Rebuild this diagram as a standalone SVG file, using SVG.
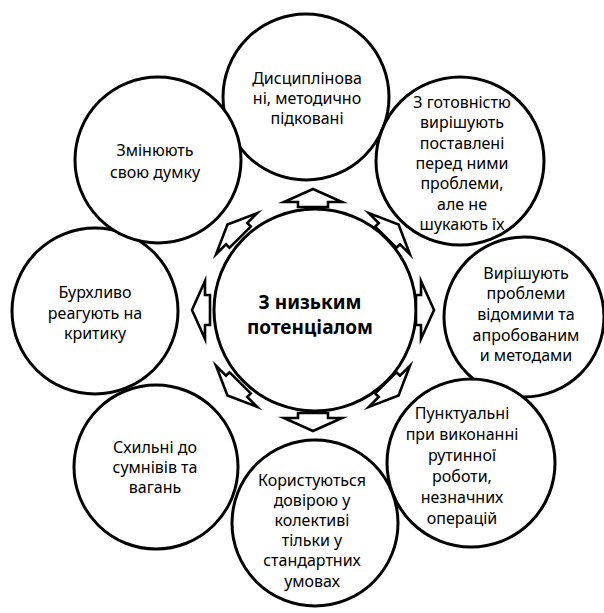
<svg xmlns="http://www.w3.org/2000/svg" width="604" height="613" viewBox="0 0 604 613">
<defs>
<style>
.c{fill:#fff;stroke:#000;stroke-width:3}
.a{fill:#fff;stroke:#000;stroke-width:2.6;stroke-linejoin:miter;stroke-miterlimit:10}
.t{font-family:"Noto Sans","Open Sans",sans-serif;font-size:16px;fill:#000;text-anchor:middle}
.m{font-family:"Noto Sans","Open Sans",sans-serif;font-size:19px;font-weight:bold;fill:#000;text-anchor:middle}
</style>
<path id="arr" d="M -15,-103 L -15,-108 L -29,-108 L 0,-121 L 29,-108 L 15,-108 L 15,-103 Z"/>
</defs>
<rect width="604" height="613" fill="#fff"/>
<g id="n-top"><circle class="c" cx="306" cy="97" r="83"/>
<text class="t"><tspan x="307" y="84">Дисциплінова</tspan><tspan x="307" y="104">ні, методично</tspan><tspan x="307" y="124">підковані</tspan></text></g>
<g id="n-ur"><circle class="c" cx="460" cy="161" r="84"/>
<text class="t"><tspan x="462" y="108">З готовністю</tspan><tspan x="462" y="128">вирішують</tspan><tspan x="462" y="149">поставлені</tspan><tspan x="462" y="169">перед ними</tspan><tspan x="462" y="189">проблеми,</tspan><tspan x="462" y="210">але не</tspan><tspan x="462" y="230">шукають їх</tspan></text></g>
<g id="n-r"><circle class="c" cx="524" cy="317" r="80"/>
<text class="t"><tspan x="526" y="279">Вирішують</tspan><tspan x="526" y="299">проблеми</tspan><tspan x="526" y="320">відомими та</tspan><tspan x="526" y="341">апробованим</tspan><tspan x="526" y="361">и методами</tspan></text></g>
<g id="n-lr"><circle class="c" cx="471" cy="463" r="84"/>
<text class="t"><tspan x="462" y="419">Пунктуальні</tspan><tspan x="462" y="440">при виконанні</tspan><tspan x="462" y="461">рутинної</tspan><tspan x="462" y="482">роботи,</tspan><tspan x="462" y="503">незначних</tspan><tspan x="462" y="524">операцій</tspan></text></g>
<g id="n-b"><circle class="c" cx="315" cy="523" r="83"/>
<text class="t"><tspan x="312" y="486">Користуються</tspan><tspan x="312" y="506">довірою у</tspan><tspan x="312" y="526">колективі</tspan><tspan x="312" y="546">тільки у</tspan><tspan x="312" y="566">стандартних</tspan><tspan x="312" y="587">умовах</tspan></text></g>
<g id="n-ll"><circle class="c" cx="156" cy="467" r="82"/>
<text class="t"><tspan x="155" y="453">Схильні до</tspan><tspan x="155" y="473">сумнівів та</tspan><tspan x="155" y="493">вагань</tspan></text></g>
<g id="n-l"><circle class="c" cx="95" cy="311" r="83"/>
<text class="t"><tspan x="95" y="298">Бурхливо</tspan><tspan x="95" y="319">реагують на</tspan><tspan x="95" y="339">критику</tspan></text></g>
<g id="n-ul"><circle class="c" cx="158" cy="160" r="83"/>
<text class="t"><tspan x="155" y="156">Змінюють</tspan><tspan x="155" y="178">свою думку</tspan></text></g>
<g id="n-center"><circle class="c" cx="315" cy="310" r="101"/>
<text class="m"><tspan x="310" y="309">З низьким</tspan><tspan x="310" y="334">потенціалом</tspan></text></g>
<g id="connectors">
<use href="#arr" class="a" transform="translate(313,310) rotate(0)"/>
<use href="#arr" class="a" transform="translate(313,310) rotate(45)"/>
<use href="#arr" class="a" transform="translate(313,310) rotate(90)"/>
<use href="#arr" class="a" transform="translate(313,310) rotate(135)"/>
<use href="#arr" class="a" transform="translate(313,310) rotate(180)"/>
<use href="#arr" class="a" transform="translate(313,310) rotate(225)"/>
<use href="#arr" class="a" transform="translate(313,310) rotate(270)"/>
<use href="#arr" class="a" transform="translate(313,310) rotate(315)"/>
</g>
</svg>
